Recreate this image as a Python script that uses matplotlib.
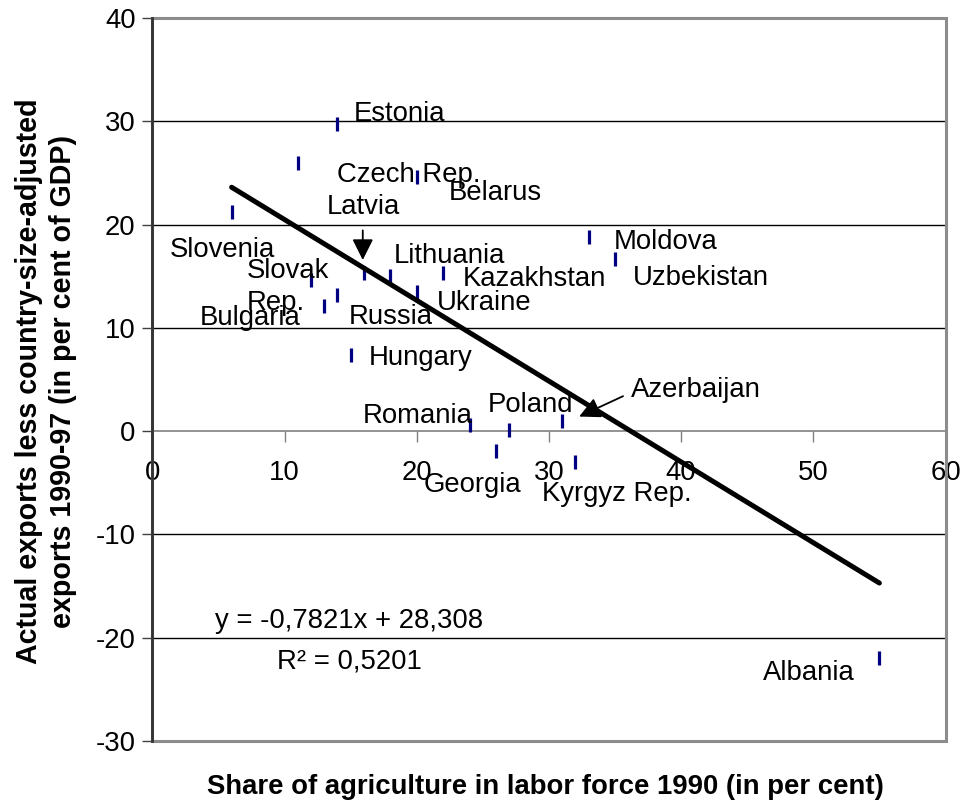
import matplotlib
matplotlib.use("Agg")
import matplotlib.pyplot as plt
from matplotlib.patches import Rectangle
import numpy as np

plt.rcParams['font.family'] = ['Liberation Sans', 'DejaVu Sans']

countries = ["Estonia", "Czech Rep.", "Slovenia", "Belarus", "Slovak\nRep.", "Bulgaria",
             "Russia", "Latvia", "Lithuania", "Ukraine", "Kazakhstan", "Hungary",
             "Moldova", "Uzbekistan", "Romania", "Poland", "Azerbaijan", "Georgia",
             "Kyrgyz Rep.", "Albania"]
agri_share = [14, 11, 6, 20, 12, 13, 14, 16, 18, 20, 22, 15, 33, 35, 24, 27, 31, 26, 32, 55]
export_gap = [29.75, 26.0, 21.2, 24.6, 14.6, 12.1, 13.2, 15.3, 15.0, 13.5, 15.3, 7.4,
              18.75, 16.7, 0.6, 0.1, 1.0, -1.9, -3.0, -22.0]

slope = -0.7821
intercept = 28.308
r_squared = "0,5201"

x_ticks = [0, 10, 20, 30, 40, 50, 60]
y_ticks = [-30, -20, -10, 0, 10, 20, 30, 40]

# label anchor positions (left, baseline of last line) in data units
label_pos = {
    "Estonia": (15.26, 30.0), "Czech Rep.": (13.95, 24.13), "Belarus": (22.39, 22.36),
    "Latvia": (13.19, 21.01), "Slovenia": (1.34, 16.84), "Slovak\nRep.": (7.14, 11.72),
    "Bulgaria": (3.61, 10.26), "Russia": (14.88, 10.36), "Lithuania": (18.28, 16.26),
    "Kazakhstan": (23.5, 14.04), "Ukraine": (21.51, 11.71), "Hungary": (16.39, 6.39),
    "Moldova": (34.87, 17.59), "Uzbekistan": (36.38, 14.13), "Romania": (15.92, 0.80),
    "Poland": (25.39, 1.87), "Azerbaijan": (36.21, 3.29), "Georgia": (20.50, -5.88),
    "Kyrgyz Rep.": (29.46, -6.78), "Albania": (46.22, -24.10),
}

FS = 19.8
fig = plt.figure(figsize=(9.61, 8.09), dpi=100)
ax = fig.add_axes([152.3 / 961, 1 - 741 / 809, (945.5 - 152.3) / 961, (741 - 18) / 809])
ax.set_xlim(0, 60)
ax.set_ylim(-30, 40)

# gridlines
for yv in y_ticks:
    if yv not in (0, 40, -30):
        ax.axhline(yv, color='black', lw=1.0, zorder=1)

# frame
ax.add_patch(Rectangle((0, 0), 1, 1, transform=ax.transAxes, fill=False,
                       edgecolor='#8c8c8c', lw=2.2, zorder=3, clip_on=False))
for s in ['top', 'right']:
    ax.spines[s].set_visible(False)
ax.spines['left'].set_color('#333333')
ax.spines['left'].set_linewidth(2.0)
ax.spines['left'].set_zorder(4)
ax.spines['bottom'].set_position(('data', 0))
ax.spines['bottom'].set_color('#808080')
ax.spines['bottom'].set_linewidth(1.2)

ax.set_xticks(x_ticks)
ax.set_yticks(y_ticks)
ax.set_xticklabels([str(v) for v in x_ticks])
ax.set_yticklabels([str(v) for v in y_ticks])
ax.tick_params(axis='x', direction='out', length=8, width=1, color='#808080',
               pad=13, labelsize=FS, labelcolor='black')
ax.tick_params(axis='y', direction='out', length=7, width=1, color='#404040',
               pad=5, labelsize=FS, labelcolor='black')

# data points
ax.plot(agri_share, export_gap, linestyle='none', marker='|', markersize=10,
        markeredgewidth=2.3, color='#000080', zorder=5)

# trend line
xs = np.array([min(agri_share), max(agri_share)])
ax.plot(xs, slope * xs + intercept, color='black', lw=3.6, solid_capstyle='round', zorder=6)

# labels
for name in countries:
    lx, ly = label_pos[name]
    ax.text(lx, ly, name, fontsize=FS, ha='left', va='baseline', linespacing=1.3, zorder=7)

# arrows
ax.annotate("", xy=(15.92, 16.3), xytext=(15.92, 19.7),
            arrowprops=dict(arrowstyle='-|>', color='black', lw=1.3, mutation_scale=32), zorder=8)
ax.annotate("", xy=(32.1, 1.3), xytext=(35.8, 3.5),
            arrowprops=dict(arrowstyle='-|>', color='black', lw=1.3, mutation_scale=32), zorder=8)

# equation
ax.text(4.74, -19.07, "y = -0,7821x + 28,308", fontsize=FS, ha='left', va='baseline', zorder=7)
ax.text(9.41, -22.97, "R² = " + r_squared, fontsize=FS, ha='left', va='baseline', zorder=7)

# axis titles
fig.text(545 / 961, 1 - 787 / 809, "Share of agriculture in labor force 1990 (in per cent)",
         fontsize=FS, fontweight='bold', ha='center', va='center')
fig.text(46 / 961, 1 - 381 / 809,
         "Actual exports less country-size-adjusted\nexports 1990-97 (in per cent of GDP)",
         fontsize=20.6, fontweight='bold', ha='center', va='center', rotation=90,
         multialignment='center', linespacing=1.25)

fig.savefig("out.png", dpi=100)
